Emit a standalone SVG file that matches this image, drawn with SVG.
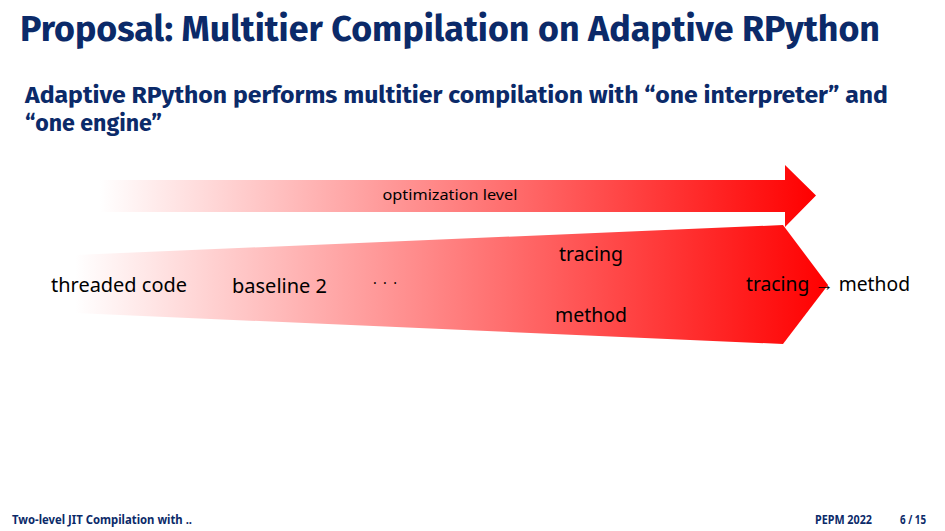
<svg xmlns="http://www.w3.org/2000/svg" width="945" height="531" viewBox="0 0 945 531">
<style>
.title{font-family:"Fira Sans","Noto Sans","Liberation Sans",sans-serif;font-weight:bold;fill:#0b2a69}
.body{font-family:"Noto Sans","Open Sans","Liberation Sans",sans-serif;fill:#000}
.foot{font-family:"Noto Sans","Liberation Sans",sans-serif;font-weight:bold;fill:#0b2a69;font-size:12px}
</style>
<defs>
<linearGradient id="gTop" gradientUnits="userSpaceOnUse" x1="100" y1="0" x2="816" y2="0">
<stop offset="0" stop-color="#ffffff"/>
<stop offset="1" stop-color="#ff0000"/>
</linearGradient>
<linearGradient id="gBot" gradientUnits="userSpaceOnUse" x1="75" y1="0" x2="828" y2="0">
<stop offset="0" stop-color="#ffffff"/>
<stop offset="1" stop-color="#ff0000"/>
</linearGradient>
</defs>
<rect width="945" height="531" fill="#fff"/>
<text class="title" x="20" y="41" font-size="36" textLength="860" lengthAdjust="spacingAndGlyphs">Proposal: Multitier Compilation on Adaptive RPython</text>
<text class="title" x="25" y="103" font-size="23" textLength="863" lengthAdjust="spacingAndGlyphs">Adaptive RPython performs multitier compilation with “one interpreter” and</text>
<text class="title" x="25" y="131" font-size="23" textLength="137" lengthAdjust="spacingAndGlyphs">“one engine”</text>
<g id="optimization-arrow">
<polygon points="100,180 785,180 785,165 816,195.5 785,227 785,212 100,212" fill="url(#gTop)"/>
<text class="body" x="450" y="200" font-size="14" text-anchor="middle" textLength="135" lengthAdjust="spacingAndGlyphs">optimization level</text>
</g>
<g id="tiers">
<polygon points="75,255 783,225 828,285 783,344 75,313" fill="url(#gBot)"/>
<text class="body" x="51" y="292" font-size="19" textLength="136" lengthAdjust="spacingAndGlyphs">threaded code</text>
<text class="body" x="232" y="293" font-size="19" textLength="95" lengthAdjust="spacingAndGlyphs">baseline 2</text>
<text class="body" x="373" y="288" font-size="14" textLength="24" lengthAdjust="spacing">· · ·</text>
<text class="body" x="591" y="261" font-size="19" text-anchor="middle" textLength="64" lengthAdjust="spacingAndGlyphs">tracing</text>
<text class="body" x="591" y="322" font-size="19" text-anchor="middle" textLength="72" lengthAdjust="spacingAndGlyphs">method</text>
<text class="body" x="746" y="291" font-size="19" textLength="164" lengthAdjust="spacingAndGlyphs">tracing → method</text>
</g>
<text class="foot" x="12" y="524" textLength="180" lengthAdjust="spacingAndGlyphs">Two-level JIT Compilation with ..</text>
<text class="foot" x="815" y="524" textLength="57" lengthAdjust="spacingAndGlyphs">PEPM 2022</text>
<text class="foot" x="900" y="524" textLength="26" lengthAdjust="spacingAndGlyphs">6 / 15</text>
</svg>
